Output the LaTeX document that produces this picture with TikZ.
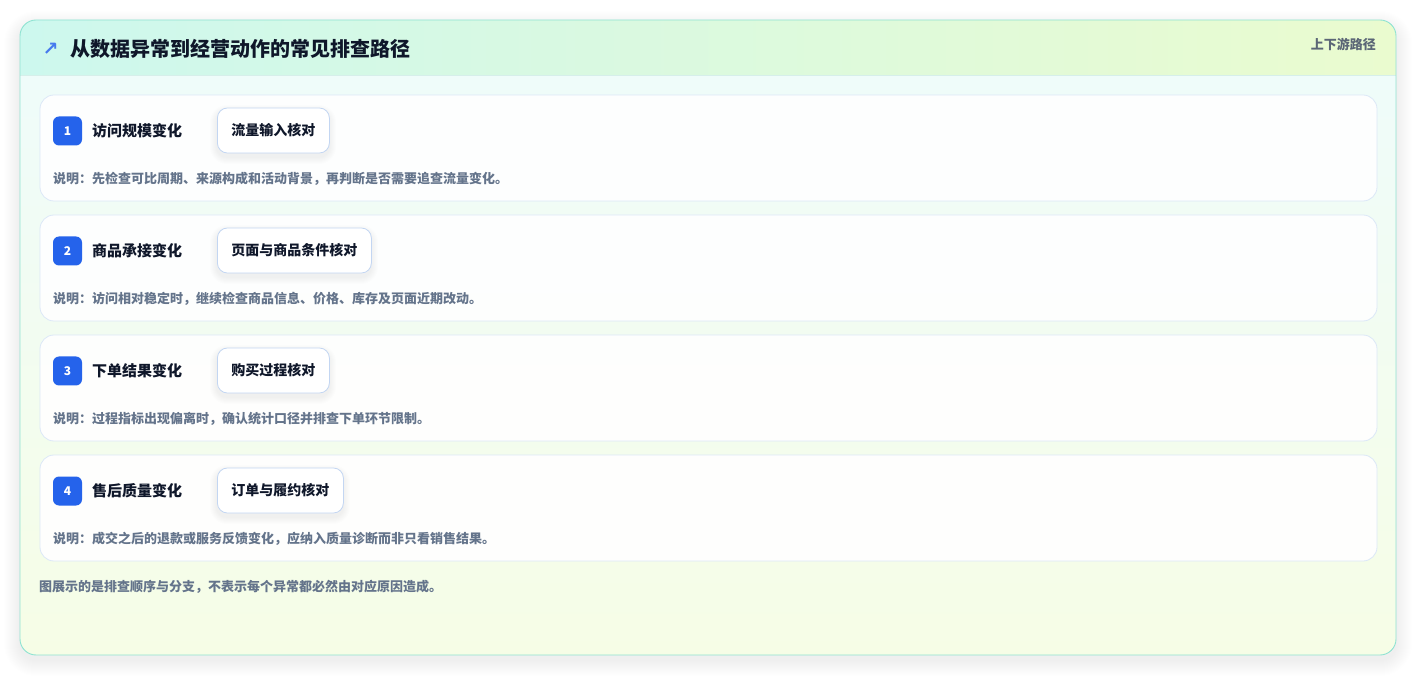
\documentclass[tikz,border=0pt]{standalone}
\usepackage{fontspec}
\setmainfont{Noto Sans CJK SC}
\newfontfamily\symfont{DejaVu Sans}
\definecolor{cardborder}{HTML}{8FE3D2}
\definecolor{headL}{HTML}{CDF8EE}
\definecolor{headR}{HTML}{EAFBCF}
\definecolor{bodyT}{HTML}{EFFCFA}
\definecolor{bodyB}{HTML}{F6FDE6}
\definecolor{rowborder}{HTML}{DCE8F7}
\definecolor{chkborder}{HTML}{C3D6F2}
\definecolor{badgeblue}{HTML}{2563EB}
\definecolor{ink}{HTML}{0F172A}
\definecolor{muted}{HTML}{64748B}
\definecolor{muteddark}{HTML}{5B6676}
\definecolor{sepline}{HTML}{D6EFEA}
\definecolor{shadowc}{HTML}{1E293B}
\tikzset{
  rowbox/.style={draw=rowborder, line width=0.8pt, fill=white, fill opacity=0.92, rounded corners=14pt},
  badge/.style={fill=badgeblue, rounded corners=6pt, minimum width=29pt, minimum height=29pt, inner sep=0pt,
    text=white, font=\fontsize{12}{14}\selectfont\bfseries},
  rowlabel/.style={anchor=west, inner sep=0pt, text=ink, font=\fontsize{15}{18}\selectfont\bfseries},
  chkbox/.style={anchor=west, draw=chkborder, line width=0.8pt, fill=white, rounded corners=10pt,
    inner xsep=14pt, inner ysep=0pt, minimum height=45pt, text=ink, font=\fontsize{14}{16}\selectfont\bfseries},
  desc/.style={anchor=west, inner sep=0pt, text=muted, font=\fontsize{13}{15}\selectfont\bfseries},
}
\begin{document}
\begin{tikzpicture}[x=1pt,y=-1pt]
\useasboundingbox (0,0) rectangle (1417,676);
\fill[white] (0,0) rectangle (1417,676);
% card shadow (manual soft layers)
\foreach \k in {1,...,16}{
  \fill[shadowc, fill opacity=0.005, rounded corners=16pt+\k pt]
    (20-\k,20-\k+7) rectangle (1396+\k,655+\k+5);
}
\begin{scope}
  \clip[rounded corners=16pt] (20,20) rectangle (1396,655);
  \shade[top color=bodyT, bottom color=bodyB] (20,75) rectangle (1396,655);
  \shade[left color=headL, right color=headR] (20,20) rectangle (1396,75);
  \draw[sepline, line width=0.8pt] (20,75) -- (1396,75);
\end{scope}
\draw[cardborder, line width=0.9pt, rounded corners=16pt] (20,20) rectangle (1396,655);
% header
\node[inner sep=0pt, text=badgeblue!85!white, font=\symfont\bfseries\fontsize{19}{20}\selectfont] (icon) at (50.5,49) {↗};
\node[anchor=west, inner sep=0pt, text=ink, font=\fontsize{20}{24}\selectfont\bfseries] (title) at (70,49) {从数据异常到经营动作的常见排查路径};
\node[anchor=east, inner sep=0pt, text=muteddark, font=\fontsize{13}{15}\selectfont\bfseries] (tag) at (1376,44) {上下游路径};
% rows
\foreach \i/\lab/\chk/\dsc/\w in {
  0/访问规模变化/流量输入核对/说明：先检查可比周期、来源构成和活动背景，再判断是否需要追查流量变化。/112,
  1/商品承接变化/页面与商品条件核对/说明：访问相对稳定时，继续检查商品信息、价格、库存及页面近期改动。/154,
  2/下单结果变化/购买过程核对/说明：过程指标出现偏离时，确认统计口径并排查下单环节限制。/112,
  3/售后质量变化/订单与履约核对/说明：成交之后的退款或服务反馈变化，应纳入质量诊断而非只看销售结果。/126}{
  \pgfmathsetmacro{\yo}{120*\i}
  \draw[rowbox] (40,95+\yo) rectangle (1377,201+\yo);
  \pgfmathtruncatemacro{\num}{\i+1}
  \node[badge] (b\i) at (67.5,131+\yo) {\num};
  \node[rowlabel] (l\i) at (92,131+\yo) {\lab};
  \foreach \k in {1,...,7}{
    \fill[shadowc, fill opacity=0.008, rounded corners=10pt+\k pt]
      (217-\k,108-\k+4+\yo) rectangle (217+\w+\k,153+\k+4+\yo);
  }
  \node[chkbox] (c\i) at (217,130.5+\yo) {\chk};
  \node[desc] (d\i) at (53,178.5+\yo) {\dsc};
}
\node[desc] (foot) at (39,586.5) {图展示的是排查顺序与分支，不表示每个异常都必然由对应原因造成。};
\end{tikzpicture}
\end{document}
